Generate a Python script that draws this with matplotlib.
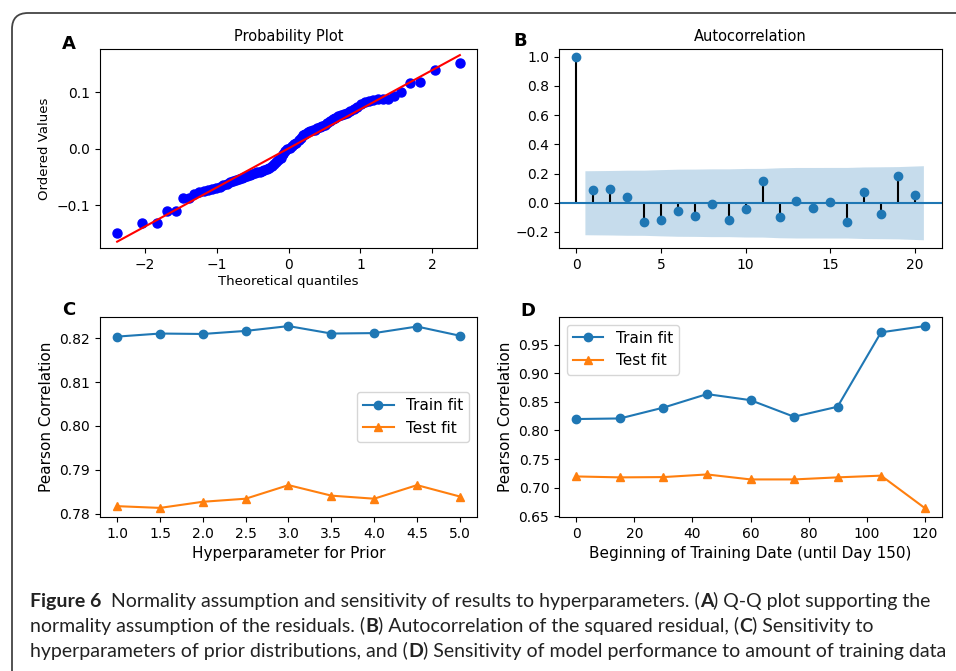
import numpy as np
import matplotlib
matplotlib.use("Agg")
import matplotlib.pyplot as plt
from matplotlib.patches import FancyBboxPatch
from matplotlib.transforms import IdentityTransform
from statistics import NormalDist

# A: ordered residuals (n = 80)
qq_values = [
    -0.150, -0.132, -0.132, -0.110, -0.110, -0.088, -0.087, -0.080, -0.077, -0.075,
    -0.073, -0.072, -0.070, -0.068, -0.064, -0.062, -0.059, -0.057, -0.055, -0.053,
    -0.051, -0.050, -0.048, -0.046, -0.044, -0.043, -0.042, -0.041, -0.040, -0.038,
    -0.036, -0.034, -0.030, -0.027, -0.024, -0.020, -0.016, -0.010, -0.004, -0.001,
    0.002, 0.005, 0.008, 0.011, 0.015, 0.020, 0.024, 0.027, 0.029, 0.031,
    0.033, 0.034, 0.036, 0.038, 0.040, 0.043, 0.046, 0.049, 0.052, 0.055,
    0.058, 0.060, 0.062, 0.064, 0.067, 0.071, 0.075, 0.079, 0.083, 0.085,
    0.087, 0.088, 0.088, 0.089, 0.094, 0.100, 0.117, 0.118, 0.140, 0.152,
]

# B: autocorrelation of squared residual
acf_lags = list(range(21))
acf_values = [1.0, 0.09, 0.095, 0.04, -0.13, -0.12, -0.055, -0.09, -0.01, -0.115,
              -0.04, 0.15, -0.095, 0.01, -0.035, 0.005, -0.13, 0.075, -0.08, 0.18, 0.05]

# C: sensitivity to prior hyperparameter
prior_x = [1.0, 1.5, 2.0, 2.5, 3.0, 3.5, 4.0, 4.5, 5.0]
prior_train = [0.8204, 0.8211, 0.8210, 0.8217, 0.8228, 0.8211, 0.8212, 0.8227, 0.8206]
prior_test = [0.7817, 0.7813, 0.7827, 0.7834, 0.7865, 0.7841, 0.7834, 0.7865, 0.7839]

# D: sensitivity to start of training window
start_x = [0, 15, 30, 45, 60, 75, 90, 105, 120]
start_train = [0.820, 0.821, 0.840, 0.8636, 0.853, 0.824, 0.8415, 0.9716, 0.9825]
start_test = [0.7196, 0.718, 0.7185, 0.7231, 0.7144, 0.7144, 0.718, 0.721, 0.6646]

W, H = 956, 671
fig = plt.figure(figsize=(W / 100, H / 100), dpi=100)
plt.rcParams['font.family'] = ['DejaVu Sans']

# outer rounded frame (runs off the right and bottom edges)
frame = FancyBboxPatch((12, -60), 1100, H - 13 + 60, boxstyle="round,pad=0,rounding_size=16",
                       transform=IdentityTransform(), facecolor='none', edgecolor='#444444', lw=1.3)
fig.add_artist(frame)

def box(l, t, r, b):
    return [l / W, 1 - b / H, (r - l) / W, (b - t) / H]

axA = fig.add_axes(box(100, 49, 477, 248))
axB = fig.add_axes(box(559, 49, 942, 248))
axC = fig.add_axes(box(100, 317, 477, 517))
axD = fig.add_axes(box(559, 317, 942, 517))

# --- A: probability plot
n = len(qq_values)
m = [(i - 0.3175) / (n + 0.365) for i in range(1, n + 1)]
m[0] = 1 - 0.5 ** (1 / n)
m[-1] = 0.5 ** (1 / n)
osm = np.array([NormalDist().inv_cdf(p) for p in m])
osr = np.array(qq_values)
slope, intercept = np.polyfit(osm, osr, 1)
axA.plot(osm, osr, 'bo', ms=6.5)
axA.plot(osm, slope * osm + intercept, 'r-', lw=1.5)
axA.set_title("Probability Plot", fontsize=10.5)
axA.set_xlabel("Theoretical quantiles", fontsize=9.5, labelpad=2)
axA.set_ylabel("Ordered Values", fontsize=9.5)
axA.set_xticks([-2, -1, 0, 1, 2])
axA.set_yticks([-0.1, 0.0, 0.1])
axA.set_ylim(-0.176, 0.177)

# --- B: autocorrelation
acf = np.array(acf_values)
nobs = n
band = 1.96 * np.sqrt((1 + 2 * np.cumsum(np.r_[0, acf[1:-1] ** 2])) / nobs)
band_x = np.array(acf_lags[1:], dtype=float)
band_x[0] -= 0.5
band_x[-1] += 0.5
axB.vlines(acf_lags, 0, acf, colors='k', lw=1.5)
axB.plot(acf_lags, acf, 'o', color='C0', ms=6)
axB.axhline(0, color='C0', lw=1.5)
axB.fill_between(band_x, -band, band, color='C0', alpha=0.25, lw=0)
axB.set_title("Autocorrelation", fontsize=10.5)
axB.set_xticks([0, 5, 10, 15, 20])
axB.set_yticks([-0.2, 0.0, 0.2, 0.4, 0.6, 0.8, 1.0])
axB.set_xlim(-1.03, 21.6)
axB.set_ylim(-0.31, 1.053)

# --- C
axC.plot(prior_x, prior_train, 'o-', color='C0', label='Train fit')
axC.plot(prior_x, prior_test, '^-', color='C1', label='Test fit')
axC.set_xlabel("Hyperparameter for Prior", fontsize=11)
axC.set_ylabel("Pearson Correlation", fontsize=11)
axC.set_xticks(prior_x)
axC.set_yticks([0.78, 0.79, 0.80, 0.81, 0.82])
axC.legend(loc='center right', fontsize=11)

# --- D
axD.plot(start_x, start_train, 'o-', color='C0', label='Train fit')
axD.plot(start_x, start_test, '^-', color='C1', label='Test fit')
axD.set_xlabel("Beginning of Training Date (until Day 150)", fontsize=11)
axD.set_ylabel("Pearson Correlation", fontsize=11)
axD.set_xticks([0, 20, 40, 60, 80, 100, 120])
axD.set_yticks([0.65, 0.70, 0.75, 0.80, 0.85, 0.90, 0.95])
axD.legend(loc='upper left', fontsize=11)

for ax in (axA, axB, axC, axD):
    ax.tick_params(labelsize=10, length=3.5)

# panel letters
for letter, x, y in [("A", 62, 49), ("B", 513, 46), ("C", 62, 315), ("D", 520, 316)]:
    fig.text(x / W, 1 - y / H, letter, fontsize=13, fontweight='bold', ha='left', va='baseline')

# caption with bold runs
cap_font = ['Lato', 'DejaVu Sans']
renderer = fig.canvas.get_renderer()

def text_width(s, weight, size):
    t1 = fig.text(0, 0, s + "|", fontsize=size, fontweight=weight, family=cap_font)
    t2 = fig.text(0, 0, "|", fontsize=size, fontweight=weight, family=cap_font)
    w = t1.get_window_extent(renderer).width - t2.get_window_extent(renderer).width
    t1.remove()
    t2.remove()
    return w

caption_lines = [
    [("Figure 6  ", True), ("Normality assumption and sensitivity of results to hyperparameters. (", False),
     ("A", True), (") Q-Q plot supporting the", False)],
    [("normality assumption of the residuals. (", False), ("B", True),
     (") Autocorrelation of the squared residual, (", False), ("C", True), (") Sensitivity to", False)],
    [("hyperparameters of prior distributions, and (", False), ("D", True),
     (") Sensitivity of model performance to amount of training data", False)],
]

# size the caption so the longest line spans the same width as in the figure
base = 12.0
widest = max(sum(text_width(s, 'bold' if b else 'normal', base) for s, b in runs)
             for runs in caption_lines)
cap_size = base * 912 / widest

for k, runs in enumerate(caption_lines):
    x = 30.0
    y = 607 + 25 * k
    for s, bold in runs:
        weight = 'bold' if bold else 'normal'
        fig.text(x / W, 1 - y / H, s, fontsize=cap_size, fontweight=weight, family=cap_font,
                 ha='left', va='baseline', color='#222222')
        x += text_width(s, weight, cap_size)

fig.savefig("out.png", dpi=100)
